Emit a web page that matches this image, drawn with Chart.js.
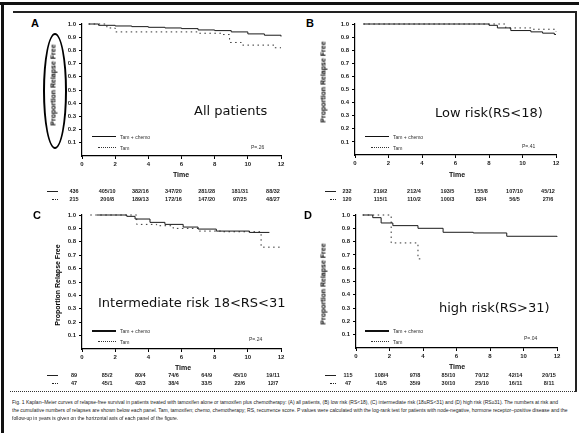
<!DOCTYPE html>
<html><head><meta charset="utf-8">
<script src="https://cdn.jsdelivr.net/npm/chart.js@4.4.1/dist/chart.umd.min.js"></script>
<style>
html,body{margin:0;padding:0;background:#fff;}
body{width:579px;height:433px;position:relative;overflow:hidden;font-family:"DejaVu Sans",sans-serif;color:#111;}
canvas{position:absolute;}
.t{position:absolute;white-space:nowrap;line-height:1;}
.ln{position:absolute;}
</style></head>
<body>
<script>
// ---------- data ----------
const timeTicks = [0, 2, 4, 6, 8, 10, 12];
const yTicks = [0.1, 0.2, 0.3, 0.4, 0.5, 0.6, 0.7, 0.8, 0.9, 1.0];
const panelLetters = ["A", "B", "C", "D"];
const panelTitles = ["All patients", "Low risk(RS<18)", "Intermediate risk 18<RS<31", "high risk(RS>31)"];
const seriesNames = ["Tam + chemo", "Tam"];
const pValues = ["P=.26", "P=.41", "P=.24", "P=.04"];

// panel A
const timeA1 = [0.4, 1, 2, 3, 4, 5, 6, 7, 8, 9, 10, 11, 12];
const survA1 = [1.0, 0.99, 0.985, 0.98, 0.975, 0.97, 0.965, 0.955, 0.95, 0.94, 0.925, 0.915, 0.905];
const timeA2 = [0.4, 1.5, 2.0, 4.7, 7.0, 8.5, 8.9, 9.6, 11.6, 12];
const survA2 = [1.0, 0.97, 0.94, 0.94, 0.93, 0.92, 0.86, 0.84, 0.82, 0.82];
// panel B
const timeB1 = [0.5, 7.7, 8.0, 8.5, 9.3, 10.5, 11.2, 11.9, 12];
const survB1 = [1.0, 1.0, 0.99, 0.97, 0.95, 0.94, 0.93, 0.92, 0.92];
const timeB2 = [0.5, 8.5, 9.0, 10.5, 12];
const survB2 = [1.0, 1.0, 0.97, 0.96, 0.94];
// panel C
const timeC1 = [0.9, 2.7, 3.2, 4.1, 5.0, 6.1, 7.0, 8.1, 10.1, 11.3];
const survC1 = [1.0, 0.99, 0.97, 0.945, 0.93, 0.91, 0.895, 0.88, 0.87, 0.87];
const timeC2 = [0.5, 3.3, 4.5, 5.5, 7.0, 8.5, 10.8, 12];
const survC2 = [1.0, 0.93, 0.92, 0.90, 0.88, 0.875, 0.76, 0.76];
// panel D
const timeD1 = [0.4, 1.0, 1.5, 2.2, 3.7, 5.2, 7.0, 9.0, 12];
const survD1 = [1.0, 0.98, 0.94, 0.92, 0.90, 0.87, 0.865, 0.84, 0.835];
const timeD2 = [0.4, 2.1, 3.7, 4.0];
const survD2 = [1.0, 0.79, 0.67, 0.67];

// numbers at risk (at risk / events) at timeTicks
const riskA1 = ["436", "405/10", "382/16", "347/20", "281/28", "181/31", "88/32"];
const riskA2 = ["215", "200/8", "189/13", "172/16", "147/20", "97/25", "48/27"];
const riskB1 = ["232", "219/2", "212/4", "193/5", "155/8", "107/10", "45/12"];
const riskB2 = ["120", "115/1", "110/2", "100/3", "82/4", "56/5", "27/6"];
const riskC1 = ["89", "85/2", "80/4", "74/6", "64/9", "45/10", "19/11"];
const riskC2 = ["47", "45/1", "42/3", "38/4", "33/5", "22/6", "12/7"];
const riskD1 = ["115", "108/4", "97/8", "85/10", "70/12", "42/14", "20/15"];
const riskD2 = ["47", "41/5", "35/9", "30/10", "25/10", "16/11", "8/11"];

const captionLines = [
 "Fig. 1 Kaplan\u2013Meier curves of relapse-free survival in patients treated with tamoxifen alone or tamoxifen plus chemotherapy: (A) all patients, (B) low risk (RS<18), (C) intermediate risk (18\u2264RS<31) and (D) high risk (RS\u226531). The numbers at risk and",
 "the cumulative numbers of relapses are shown below each panel. Tam, tamoxifen; chemo, chemotherapy; RS, recurrence score. P values were calculated with the log-rank test for patients with node-negative, hormone receptor\u2013positive disease and the",
 "follow-up in years is given on the horizontal axis of each panel of the figure."
];

// ---------- layout ----------
const panels = [
 {left:82, top:24, right:281, bottom:156, t1:timeA1, s1:survA1, t2:timeA2, s2:survA2, r1:riskA1, r2:riskA2,
  letter:[31,17], yt:[53,85], title:[194,103], leg:[92,137], p:[251,144], time:[181,171], rows:[191,199], rowLab:47, legW:1},
 {left:355, top:24, right:556, bottom:155, t1:timeB1, s1:survB1, t2:timeB2, s2:survB2, r1:riskB1, r2:riskB2,
  letter:[306,17], yt:[323,82], title:[435,105], leg:[365,137], p:[522,143], time:[457,171], rows:[191,199], rowLab:325, legW:1},
 {left:82, top:215, right:281, bottom:349, t1:timeC1, s1:survC1, t2:timeC2, s2:survC2, r1:riskC1, r2:riskC2,
  letter:[33,209], yt:[57,285], title:[98,295], leg:[92,331], p:[249,336], time:[183,364], rows:[375,383], rowLab:47, legW:2},
 {left:356, top:215, right:557, bottom:348, t1:timeD1, s1:survD1, t2:timeD2, s2:survD2, r1:riskD1, r2:riskD2,
  letter:[304,209], yt:[323,284], title:[439,300], leg:[365,331], p:[524,335], time:[457,363], rows:[375,383], rowLab:325, legW:2}
];

function addText(txt, x, y, css){
  const d = document.createElement('div');
  d.className = 't';
  d.textContent = txt;
  d.style.left = x + 'px'; d.style.top = y + 'px';
  Object.assign(d.style, css || {});
  document.body.appendChild(d);
  return d;
}
function addLine(x, y, w, h, css){
  const d = document.createElement('div');
  d.className = 'ln';
  d.style.left = x+'px'; d.style.top = y+'px'; d.style.width = w+'px'; d.style.height = h+'px';
  Object.assign(d.style, css || {});
  document.body.appendChild(d);
  return d;
}

const tickFont = {family:"Liberation Sans", size:6, weight:'bold'};
const PADT = 8, PADR = 8, YW = 40, XH = 22;

panels.forEach((p, i) => {
  const cv = document.createElement('canvas');
  const w = p.right - p.left + YW + PADR;
  const h = p.bottom - p.top + PADT + XH;
  cv.width = w; cv.height = h;
  cv.style.left = (p.left - YW) + 'px';
  cv.style.top = (p.top - PADT) + 'px';
  document.body.appendChild(cv);
  const chart = new Chart(cv.getContext('2d'), {
    type: 'line',
    data: {
      datasets: [
        {label: seriesNames[0], data: p.t1.map((t,k)=>({x:t, y:p.s1[k]})), stepped:true,
         borderColor:'#1a1a1a', borderWidth:1, pointRadius:0, fill:false, clip:false},
        {label: seriesNames[1], data: p.t2.map((t,k)=>({x:t, y:p.s2[k]})), stepped:true,
         borderColor:'#333', borderWidth:1, borderDash:[1.5,3.5], pointRadius:0, fill:false, clip:false}
      ]
    },
    options: {
      responsive:false, animation:false, devicePixelRatio:1,
      layout:{padding:{left:0, top:PADT, right:PADR, bottom:0}},
      plugins:{legend:{display:false}, tooltip:{enabled:false}},
      scales:{
        x:{type:'linear', min:0, max:12,
           afterBuildTicks: s => { s.ticks = timeTicks.map(v=>({value:v})); },
           afterFit: s => { s.height = XH; },
           ticks:{font:tickFont, color:'#222', padding:2, maxRotation:0, autoSkip:false},
           grid:{display:true, drawOnChartArea:false, drawTicks:true, tickLength:3, color:'#000'},
           border:{display:true, color:'#000', width:1.2}},
        y:{type:'linear', min:0, max:1,
           afterBuildTicks: s => { s.ticks = yTicks.map(v=>({value:v})); },
           afterFit: s => { s.width = YW; },
           ticks:{font:tickFont, color:'#222', padding:3, callback:v=>Number(v).toFixed(1)},
           grid:{display:true, drawOnChartArea:false, drawTicks:true, tickLength:3, color:'#000'},
           border:{display:true, color:'#000', width:1.2}}
      }
    }
  });

  const xs = chart.scales.x;
  const offX = p.left - YW;
  addText(panelLetters[i], p.letter[0], p.letter[1], {font:"bold 11px 'Liberation Sans'", color:'#000'});
  const yt = addText("Proportion Relapse Free", p.yt[0], p.yt[1], {font:"bold 7px 'Liberation Sans'", color:'#000'});
  yt.style.transform = 'translate(-50%,-50%) rotate(-90deg)';
  const tt = addText("Time", p.time[0], p.time[1], {font:"bold 7px 'Liberation Sans'", color:'#111'});
  tt.style.transform = 'translateX(-50%)';
  addText(panelTitles[i], p.title[0], p.title[1], {font:"13px 'DejaVu Sans'", color:'#111'});
  addLine(p.leg[0], p.leg[1]-1, 24, p.legW, {background:'#111'});
  addText(seriesNames[0], p.leg[0]+28, p.leg[1]-3, {font:"5px 'Liberation Sans'", color:'#333'});
  addLine(p.leg[0]+6, p.leg[1]+10, 18, 0, {borderTop:'1px dotted #333'});
  addText(seriesNames[1], p.leg[0]+28, p.leg[1]+8, {font:"5px 'Liberation Sans'", color:'#333'});
  addText(pValues[i], p.p[0], p.p[1], {font:"5px 'Liberation Sans'", color:'#333'});
  addLine(p.rowLab, p.rows[0], 11, 1, {background:'#222'});
  addLine(p.rowLab+5, p.rows[1], 6, 0, {borderTop:'1px dotted #222'});
  timeTicks.forEach((t, k) => {
    const cx = offX + xs.getPixelForValue(t) - 8;
    const a = addText(p.r1[k], cx, p.rows[0]-3, {font:"bold 5.5px 'Liberation Sans'", color:'#222'});
    a.style.transform = 'translateX(-50%)';
    const b = addText(p.r2[k], cx, p.rows[1]-3, {font:"bold 5.5px 'Liberation Sans'", color:'#222'});
    b.style.transform = 'translateX(-50%)';
  });
});

// oval annotation around panel A y-axis title
addLine(43, 33, 20, 112, {border:'2px solid #000', borderRadius:'50%'});

// frame
addLine(0, 2, 579, 3, {background:'#111'});
addLine(1, 2, 3, 431, {background:'#111'});
addLine(13, 11, 563, 2, {background:'#222'});
addLine(575, 11, 2, 381, {background:'#222'});
addLine(10, 391, 567, 0, {borderTop:'1px dotted #333'});

// caption: one common horizontal scale so that the two full lines fit the page width
const capY = [399, 407, 415];
const capEls = captionLines.map((ln, k) =>
  addText(ln, 12, capY[k], {font:"5.5px 'Liberation Sans'", color:'#222', transformOrigin:'0 0'}));
let capScale = 1;
[0, 1].forEach(k => { const w = capEls[k].scrollWidth; if (w > 0) capScale = Math.min(capScale, 556 / w); });
capEls.forEach(d => { d.style.transform = 'scaleX(' + capScale.toFixed(3) + ')'; });
</script>
</body></html>
